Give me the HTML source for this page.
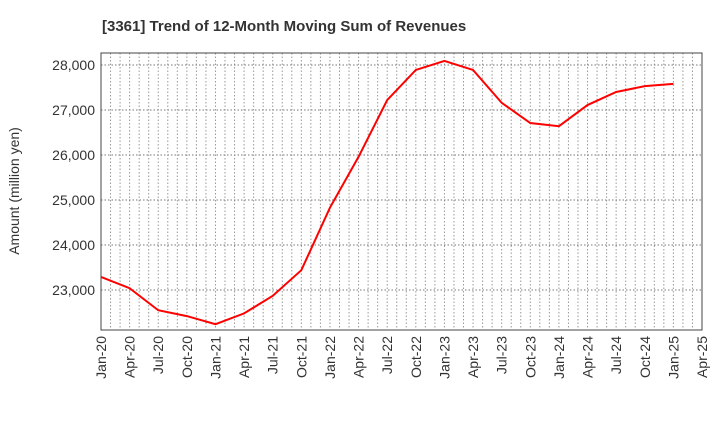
<!DOCTYPE html>
<html><head><meta charset="utf-8"><style>
body{margin:0;background:#fff;font-family:"Liberation Sans",sans-serif}
</style></head><body>
<svg id="chart" width="720" height="440" xmlns="http://www.w3.org/2000/svg">
<text x="102" y="31" font-size="15" font-weight="bold" fill="#333">[3361]  Trend of 12-Month Moving Sum of Revenues</text>
<text transform="translate(19,191) rotate(-90)" text-anchor="middle" font-size="14" fill="#333">Amount (million yen)</text>
<g id="grid"></g><g id="axes"></g><g id="series"></g>
</svg>
<script>
const categories=["Jan-20","Apr-20","Jul-20","Oct-20","Jan-21","Apr-21","Jul-21","Oct-21","Jan-22","Apr-22","Jul-22","Oct-22","Jan-23","Apr-23","Jul-23","Oct-23","Jan-24","Apr-24","Jul-24","Oct-24","Jan-25","Apr-25"];
const revenues=[23290,23040,22550,22420,22240,22480,22870,23440,24830,25960,27220,27890,28090,27890,27160,26710,26640,27110,27400,27530,27580];
const yTicks=[23000,24000,25000,26000,27000,28000];
const L=101,R=702,T=53,B=330;
const xs=i=>L+(R-L)*i/(categories.length-1);
const ys=v=>290-(v-23000)*0.045;
const NS="http://www.w3.org/2000/svg";
function mk(tag,attrs,parent){const e=document.createElementNS(NS,tag);for(const k in attrs)e.setAttribute(k,attrs[k]);parent.appendChild(e);return e;}
const grid=document.getElementById('grid'),axes=document.getElementById('axes'),series=document.getElementById('series');
const months=(categories.length-1)*3;
for(let m=1;m<months;m++){const x=L+(R-L)*m/months;
const g=mk('line',{x1:x,x2:x,y1:T,y2:B,stroke:'#999','stroke-dasharray':'1.5,2','stroke-width':1},grid);

}
yTicks.forEach(v=>{const y=ys(v);
const g=mk('line',{x1:L,x2:R,y1:y,y2:y,stroke:'#777','stroke-dasharray':'1.5,2','stroke-width':1},grid);


const t=mk('text',{x:L-6,y:y+5,'text-anchor':'end','font-size':14,fill:'#333'},axes);t.textContent=v.toLocaleString('en-US');

});
categories.forEach((c,i)=>{const x=xs(i);
const t=mk('text',{transform:`translate(${x+5},${B+6}) rotate(-90)`,'text-anchor':'end','font-size':14,fill:'#333'},axes);t.textContent=c;

});
const frame=mk('rect',{x:L,y:T,width:R-L,height:B-T,fill:'none',stroke:'#444','stroke-width':1},axes);


const line=mk('polyline',{points:revenues.map((v,i)=>xs(i)+','+ys(v)).join(' '),fill:'none',stroke:'#ff0000','stroke-width':2},series);


</script>
</body></html>
